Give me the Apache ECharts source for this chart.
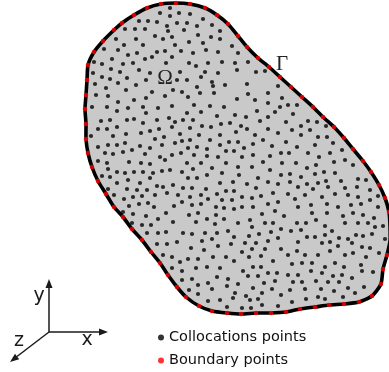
<!DOCTYPE html>
<html>
<head>
<meta charset="utf-8">
<script src="https://cdn.jsdelivr.net/npm/echarts@6/dist/echarts.min.js"></script>
<style>
  html, body { margin: 0; padding: 0; background: #ffffff; }
  #chart { width: 389px; height: 372px; }
</style>
</head>
<body>
<div id="chart"></div>
<script>
// Boundary points of the domain, listed clockwise starting at the top.
const boundaryPoints = [
  [176,3],[190,4],[205,8],[217,15],[228,24],[238,36],[247,47],[258,58],[269,67],[280,77],
  [291,87],[302,97],[313,107],[323,117],[334,127],[344,138],[353,149],[363,161],[371,172],[379,185],
  [385,198],[389,212],[390,226],[390,241],[387,255],[383,269],[381,284],[372,296],[359,302],[344,304],
  [329,305],[315,307],[300,309],[286,312],[271,313],[256,313],[241,314],[227,313],[212,311],[199,306],
  [186,297],[177,287],[168,275],[160,263],[151,252],[142,240],[132,229],[123,217],[114,207],[106,194],
  [98,181],[92,167],[88,153],[86,139],[86,124],[85,109],[86,95],[87,80],[88,65],[94,52],
  [103,41],[114,30],[122,23],[134,15],[147,8],[161,4]
];

// Interior collocation points.
const collocationPoints = [
  // upper part
  [160,13],[170,8],[170,16],[179,13],[190,14],[139,21],[148,21],[157,22],[167,26],[177,23],
  [187,23],[197,26],[203,19],[212,25],[125,29],[135,29],[145,29],
  [168,31],[184,30],[116,39],[136,39],[155,36],[163,39],[172,37],
  [124,45],[143,45],[175,45],[104,49],[118,50],[157,52],[165,51],[181,51],
  [128,55],[137,53],[152,57],[172,57],[112,59],[145,59],
  [94,62],[102,64],[123,64],[133,63],[166,63],
  [111,69],[120,72],[139,70],[150,73],[180,72],
  [93,73],[102,77],[110,79],[127,78],[146,80],[177,80],
  [95,84],[118,83],[136,85],
  [106,88],[126,90],[152,92],[173,90],[182,92],
  [96,95],[108,96],[118,102],[134,100],[146,98],[165,96],
  [92,107],[107,107],[128,108],[143,107],[158,108],[172,106],
  [198,35],[211,37],[220,31],[189,42],[203,43],[220,39],[232,46],
  [193,53],[206,50],[218,52],[238,53],
  [189,63],[196,66],[208,63],[222,62],[235,63],[248,62],
  [205,72],[218,73],[237,70],[256,72],[265,71],
  [187,80],[201,77],[212,82],[225,85],[247,84],
  [197,87],[213,86],
  [188,97],[200,93],[214,93],[248,94],[268,93],[278,86],
  [194,105],[210,106],[224,107],[237,99],[255,100],[268,103],[282,98],[280,107],
  [288,105],[297,105],
  // middle band
  [117,111],[146,113],[101,121],[110,120],[127,120],[134,119],[157,120],[169,118],[175,122],[183,120],
  [98,129],[107,129],[117,127],[143,123],[150,131],[159,129],[172,127],
  [91,136],[113,136],[126,134],[141,133],[155,139],[164,137],[180,134],[182,141],
  [98,147],[108,145],[117,145],[125,143],[140,146],[150,148],[162,145],[175,143],
  [105,153],[113,154],[123,152],[132,150],[145,154],[160,157],[172,155],[181,153],
  [98,161],[107,163],[129,162],[141,163],[150,164],[165,160],
  [108,169],[117,172],[125,173],[134,172],[143,172],[153,173],[162,171],[170,170],[182,172],
  [102,176],[110,177],[117,183],[128,180],[140,183],[150,178],[163,187],[173,185],
  [108,189],[127,189],[137,190],[147,190],[157,186],[183,188],
  [114,195],[133,197],[142,196],[155,195],[167,193],[178,195],
  [124,199],[139,204],[148,203],[129,206],[154,207],[174,206],[182,202],
  [187,113],[201,112],[217,116],[235,115],[246,117],[257,111],[268,117],[275,112],
  [193,120],[221,124],[230,123],[241,126],[260,121],
  [190,128],[202,126],[211,127],[236,132],[247,129],[268,129],[278,133],
  [199,135],[220,135],[255,135],
  [190,140],[210,140],[229,142],[238,142],[263,140],
  [197,147],[207,149],[220,145],[244,148],[253,144],[272,146],[188,148],
  [226,151],[234,151],
  [194,155],[207,156],[218,157],[242,157],[253,155],[270,156],[281,153],
  [187,163],[201,163],[226,163],[263,162],[282,163],
  [193,169],[212,168],[238,167],[252,167],[270,170],
  [207,175],[222,173],[239,175],[258,178],[281,175],
  [188,178],[197,178],[220,183],[233,182],[247,184],[268,182],[278,184],
  [192,188],[206,189],[226,191],[234,191],[256,188],
  [201,195],[217,194],[242,197],[252,198],[273,193],
  [190,197],[208,199],[222,200],[232,200],[261,196],[278,202],[268,204],
  [192,205],[201,204],[216,207],[224,208],[234,209],[242,207],[253,207],
  [293,114],[308,121],[317,122],[286,122],[292,130],[301,126],[310,130],[326,126],
  [301,135],[318,137],[327,137],
  [286,142],[297,147],[315,145],[333,143],[342,150],
  [308,153],[289,153],[319,157],[330,153],[345,160],
  [296,163],[316,165],[334,162],[353,165],
  [307,168],[324,172],
  [290,174],[301,177],[315,174],[335,173],[358,179],
  [290,182],[307,184],[318,183],[326,181],[341,181],[366,180],
  [298,187],[313,189],[328,187],[345,188],[357,187],[370,190],
  [288,194],[305,195],[322,197],[335,194],[348,195],[358,197],[378,196],
  [295,199],[370,200],
  [311,205],[298,207],[327,204],[338,207],[351,205],[361,204],[378,207],
  // lower part
  [123,212],[133,214],[146,216],[158,219],[166,213],
  [132,223],[142,225],[151,225],[173,222],
  [147,233],[158,233],[166,232],[183,233],
  [157,244],[167,244],[177,242],
  [163,255],[172,257],[180,262],
  [172,268],[182,271],[182,280],
  [189,215],[198,213],[207,219],[216,215],[224,219],[250,220],[262,214],[275,211],[284,216],
  [196,222],[215,224],[238,223],[265,223],[273,223],
  [192,234],[205,233],[217,233],[228,231],[252,227],[259,234],[271,232],[281,229],
  [202,241],[212,239],[234,237],[249,236],[268,241],[278,238],
  [245,243],[256,243],
  [191,248],[204,250],[218,246],[231,244],[242,252],[252,249],[265,249],[281,249],
  [188,259],[198,259],[213,257],[226,257],[234,261],[249,257],[261,256],[273,261],
  [207,267],[196,268],[220,268],[243,271],[253,267],[261,267],[268,273],[277,273],
  [217,277],[192,279],[228,279],[248,276],[258,276],
  [198,285],[208,283],[238,284],[264,283],[275,281],
  [212,289],[227,286],[253,288],[272,289],
  [189,290],[198,294],[235,293],[246,296],[262,293],[281,295],
  [208,301],[220,300],[233,298],[250,300],[258,299],
  [278,306],[227,307],[242,308],[251,308],[262,305],
  [312,213],[327,213],[343,216],[353,213],[363,215],[374,218],
  [297,223],[306,223],[316,220],[325,226],[332,231],[345,223],[358,223],[368,223],[375,227],[383,226],
  [291,231],[301,230],
  [307,237],[315,237],[325,235],[339,238],[348,239],[356,235],[363,236],[372,234],[385,239],
  [298,242],[322,243],[330,242],[338,246],[352,243],[362,247],[370,248],
  [288,255],[297,251],[305,255],[318,255],[330,251],[345,255],[353,253],[366,257],[379,253],
  [292,264],[302,263],[312,263],[325,267],[335,263],[344,267],[361,265],[373,272],
  [288,275],[298,275],[311,271],[322,273],[333,276],[342,275],[352,278],[362,271],
  [293,282],[302,282],[316,281],[328,282],[339,282],[348,288],
  [290,290],[305,289],[321,289],[334,291],[355,293],[364,287],
  [292,302],[306,299],[318,297],[325,299],[343,297]
];

const seriesNames = ['Collocations points', 'Boundary points'];

const chart = echarts.init(document.getElementById('chart'), null, { renderer: 'canvas' });

const ink = '#1a1a1a';
const labelFont = 'DejaVu Sans, Verdana, sans-serif';
const greekFont = '21px "Liberation Serif", "DejaVu Serif", serif';

chart.setOption({
  animation: false,
  grid: { left: 0, right: 0, top: 0, bottom: 0 },
  xAxis: { type: 'value', min: 0, max: 389, show: false },
  yAxis: { type: 'value', min: 0, max: 372, inverse: true, show: false },
  legend: {
    data: seriesNames,
    orient: 'vertical',
    left: 158,
    top: 330,
    padding: 0,
    itemWidth: 6,
    itemHeight: 6,
    itemGap: 8,
    icon: 'circle',
    selectedMode: false,
    textStyle: { fontFamily: labelFont, fontSize: 14.5, color: '#111' }
  },
  series: [
    {
      // the domain: filled region enclosed by the boundary curve
      type: 'custom',
      name: 'domain',
      silent: true,
      z: 1,
      data: [[0, 0]],
      renderItem: function (params, api) {
        return {
          type: 'polygon',
          shape: {
            points: boundaryPoints.map(function (p) { return api.coord(p); }),
            smooth: 0.2
          },
          style: { fill: '#c9c9c9', stroke: '#000000', lineWidth: 3.6 }
        };
      }
    },
    {
      type: 'scatter',
      name: seriesNames[0],
      z: 2,
      silent: true,
      symbol: 'circle',
      symbolSize: 4.2,
      itemStyle: { color: '#000000' },
      data: collocationPoints
    },
    {
      type: 'scatter',
      name: seriesNames[1],
      z: 3,
      silent: true,
      symbol: 'circle',
      symbolSize: 4.6,
      itemStyle: { color: '#ff0000' },
      data: boundaryPoints
    }
  ],
  graphic: [
    // region labels
    { type: 'text', z: 100, x: 165, y: 78, style: { text: 'Ω', font: greekFont, fill: '#222', textAlign: 'center', textVerticalAlign: 'middle' } },
    { type: 'text', z: 100, x: 282, y: 64, style: { text: 'Γ', font: greekFont, fill: '#222', textAlign: 'center', textVerticalAlign: 'middle' } },
    // coordinate triad
    { type: 'line', shape: { x1: 49, y1: 332, x2: 49, y2: 287 }, style: { stroke: ink, lineWidth: 1.5 } },
    { type: 'polygon', shape: { points: [[49, 279], [45.5, 288], [52.5, 288]] }, style: { fill: ink } },
    { type: 'line', shape: { x1: 49, y1: 332, x2: 100, y2: 332 }, style: { stroke: ink, lineWidth: 1.5 } },
    { type: 'polygon', shape: { points: [[108, 332], [99, 328.5], [99, 335.5]] }, style: { fill: ink } },
    { type: 'line', shape: { x1: 49, y1: 332, x2: 17, y2: 356.5 }, style: { stroke: ink, lineWidth: 1.5 } },
    { type: 'polygon', shape: { points: [[10, 362], [19.2, 359.3], [15.0, 353.7]] }, style: { fill: ink } },
    { type: 'text', x: 39, y: 296, style: { text: 'y', font: '19px ' + labelFont, fill: ink, textAlign: 'center', textVerticalAlign: 'middle' } },
    { type: 'text', x: 87, y: 340, style: { text: 'x', font: '19px ' + labelFont, fill: ink, textAlign: 'center', textVerticalAlign: 'middle' } },
    { type: 'text', x: 19, y: 341, style: { text: 'z', font: '19px ' + labelFont, fill: ink, textAlign: 'center', textVerticalAlign: 'middle' } }
  ]
});
</script>
</body>
</html>
